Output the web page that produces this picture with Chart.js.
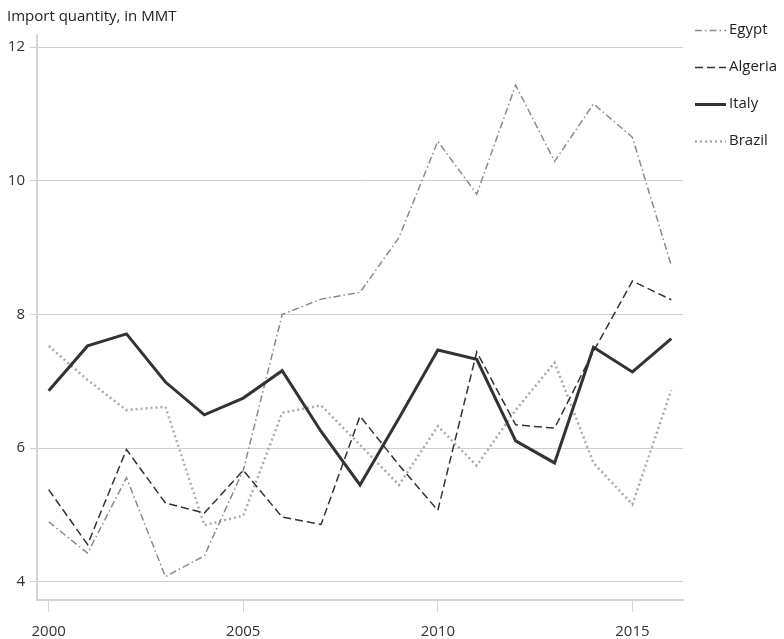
<!DOCTYPE html>
<html>
<head>
<meta charset="utf-8">
<script src="https://cdn.jsdelivr.net/npm/chart.js@4/dist/chart.umd.min.js"></script>
<style>
html,body{margin:0;padding:0;background:#fff;}
#wrap{width:784px;height:639px;position:relative;}
</style>
</head>
<body>
<div id="wrap"><canvas id="c" width="784" height="639"></canvas></div>
<script>
const years = [2000,2001,2002,2003,2004,2005,2006,2007,2008,2009,2010,2011,2012,2013,2014,2015,2016];
const egypt   = [4.90,4.43,5.56,4.08,4.39,5.67,8.00,8.23,8.33,9.15,10.59,9.80,11.43,10.29,11.15,10.65,8.73];
const algeria = [5.38,4.56,5.98,5.18,5.03,5.67,4.97,4.86,6.48,5.75,5.07,7.44,6.35,6.30,7.45,8.50,8.22];
const italy   = [6.86,7.53,7.71,6.99,6.50,6.75,7.16,6.25,5.45,6.45,7.47,7.33,6.11,5.78,7.51,7.14,7.64];
const brazil  = [7.53,7.02,6.57,6.62,4.85,4.99,6.53,6.64,6.05,5.45,6.33,5.74,6.57,7.28,5.78,5.16,6.87];
const seriesNames = ["Egypt","Algeria","Italy","Brazil"];
const xTickLabels = [2000,2005,2010,2015];
const yTickLabels = [4,6,8,10,12];
const titleText = "Import quantity, in MMT";

const FONT = "'Open Sans', 'Noto Sans', sans-serif";
const pts = arr => years.map((y,i)=>({x:y,y:arr[i]}));

const styles = [
  {color:'#8a8a8a', width:1.5, dash:[7,3,1.5,3]},
  {color:'#333333', width:1.5, dash:[8,4]},
  {color:'#333333', width:3,   dash:[]},
  {color:'#aaaaaa', width:2.5, dash:[2,3]}
];
const seriesData = [egypt, algeria, italy, brazil];

const datasets = seriesNames.map((n,i)=>({
  label:n,
  data:pts(seriesData[i]),
  borderColor:styles[i].color,
  borderWidth:styles[i].width,
  borderDash:styles[i].dash,
  pointRadius:0,
  fill:false,
  tension:0,
  borderJoinStyle:'miter',
  borderCapStyle:'butt',
  order: i===2 ? 0 : 1
}));

const extras = {
  id:'extras',
  afterDraw(chart){
    const ctx = chart.ctx;
    ctx.save();
    ctx.fillStyle = '#222';
    ctx.font = "15px " + FONT;
    ctx.textBaseline = 'middle';
    ctx.textAlign = 'left';
    ctx.fillText(titleText, 7, 17);
    // legend
    const ys = [30,67,104,141];
    chart.data.datasets.forEach((ds,i)=>{
      const y = ys[i];
      ctx.beginPath();
      ctx.strokeStyle = ds.borderColor;
      ctx.lineWidth = ds.borderWidth;
      ctx.setLineDash(ds.borderDash);
      ctx.moveTo(695,y+0.5);
      ctx.lineTo(726,y+0.5);
      ctx.stroke();
      ctx.setLineDash([]);
      ctx.fillStyle = '#222';
      ctx.fillText(ds.label, 729, y);
    });
    ctx.restore();
  }
};

new Chart(document.getElementById('c'), {
  type:'line',
  data:{datasets},
  options:{
    responsive:false,
    animation:false,
    layout:{padding:{top:35,right:101,left:0,bottom:0}},
    plugins:{legend:{display:false},tooltip:{enabled:false},title:{display:false}},
    scales:{
      x:{
        type:'linear',
        min:1999.7, max:2016.3,
        afterBuildTicks(s){ s.ticks = xTickLabels.map(v=>({value:v})); },
        afterFit(s){ s.height = 39; },
        grid:{drawOnChartArea:false, drawTicks:true, tickLength:12, color:'#d4d4d4', lineWidth:1},
        border:{display:true, color:'#d4d4d4', width:2},
        ticks:{color:'#333', font:{size:15, family:FONT}, padding:11, maxRotation:0, callback:v=>String(v)}
      },
      y:{
        type:'linear',
        min:3.73, max:12.18,
        afterBuildTicks(s){ s.ticks = yTickLabels.map(v=>({value:v})); },
        afterFit(s){ s.width = 37; },
        grid:{drawOnChartArea:true, drawTicks:true, tickLength:7, color:'#cfcfcf', lineWidth:1},
        border:{display:true, color:'#d4d4d4', width:2},
        ticks:{color:'#333', font:{size:15, family:FONT}, padding:5, callback:v=>String(v)}
      }
    }
  },
  plugins:[extras]
});
</script>
</body>
</html>
